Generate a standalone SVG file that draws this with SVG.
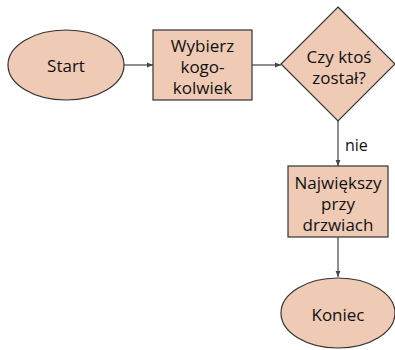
<svg xmlns="http://www.w3.org/2000/svg" width="395" height="350" viewBox="0 0 395 350">
<defs>
<style>
.n{fill:#efcab4;stroke:#333;stroke-width:1.2}
.t{font-family:"Open Sans","Noto Sans","Liberation Sans",sans-serif;font-size:17px;fill:#111;text-anchor:middle}
.c{stroke:#444;stroke-width:1.2;fill:none;marker-end:url(#a)}
.l{font-family:"Open Sans","Noto Sans","Liberation Sans",sans-serif;font-size:16px;fill:#111}
</style>
<marker id="a" viewBox="0 0 10 10" refX="10" refY="5" markerWidth="6" markerHeight="6" orient="auto" markerUnits="userSpaceOnUse">
<path d="M0,1 L10,5 L0,9 Z" fill="#444"/>
</marker>
</defs>
<rect width="395" height="350" fill="#fff"/>
<g id="connectors">
<line class="c" x1="124" y1="65" x2="153" y2="65"/>
<line class="c" x1="252" y1="65" x2="281" y2="65"/>
<line class="c" x1="338" y1="121" x2="338" y2="166"/>
<text class="l" x="345" y="151">nie</text>
<line class="c" x1="338" y1="237" x2="338" y2="277"/>
</g>
<g id="start">
<ellipse class="n" cx="66" cy="65" rx="58" ry="35"/>
<text class="t" x="66" y="72">Start</text>
</g>
<g id="wybierz">
<rect class="n" x="153" y="30" width="99" height="70"/>
<text class="t" x="202.5" y="52">Wybierz</text>
<text class="t" x="202.5" y="73">kogo-</text>
<text class="t" x="202.5" y="94">kolwiek</text>
</g>
<g id="decision">
<polygon class="n" points="338,7 395,64 338,121 281,64"/>
<text class="t" x="339" y="63">Czy ktoś</text>
<text class="t" x="339" y="84">został?</text>
</g>
<g id="najwiekszy">
<rect class="n" x="288" y="166" width="100" height="71"/>
<text class="t" x="338" y="189">Największy</text>
<text class="t" x="338" y="210">przy</text>
<text class="t" x="338" y="231">drzwiach</text>
</g>
<g id="koniec">
<ellipse class="n" cx="338" cy="313" rx="57" ry="35"/>
<text class="t" x="338" y="321">Koniec</text>
</g>
</svg>
